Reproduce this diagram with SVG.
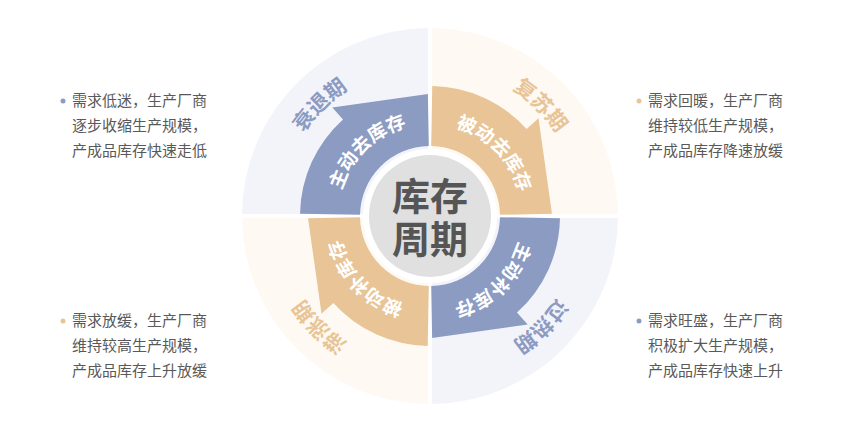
<svg xmlns="http://www.w3.org/2000/svg" width="865" height="438" viewBox="0 0 865 438">
<style>
.side{font-family:"Noto Sans CJK SC","Liberation Sans",sans-serif;font-size:15px;fill:#595959}
.arw{font-family:"Noto Sans CJK SC",sans-serif;font-size:19px;font-weight:bold;fill:#fff}
.lbl{font-family:"Noto Sans CJK SC",sans-serif;font-size:21px;font-weight:bold}
.ctr{font-family:"Noto Sans CJK SC",sans-serif;font-size:38px;font-weight:bold;fill:#555}
</style>
<defs>
<path id="q" d="M2,-2 L2,-188 A188 188 0 0 1 188,-2 Z"/>
<path id="a" d="M69.99,-1.22 A70 70 0 0 0 1.22,-69.99 L2.27,-129.98 A130 130 0 0 1 96.61,-86.99 L108.5,-97.69 L121.98,-2.13 Z"/>
<path id="c1" d="M-92,0 A92 92 0 1 1 92,0 A92 92 0 1 1 -92,0 A92 92 0 1 1 92,0 A92 92 0 1 1 -92,0"/>
<path id="c2" d="M-151,0 A151 151 0 1 1 151,0 A151 151 0 1 1 -151,0 A151 151 0 1 1 151,0 A151 151 0 1 1 -151,0"/>
</defs>
<rect width="865" height="438" fill="#fff"/>
<g transform="translate(430,216)">
<g id="quadrants">
<use href="#q" fill="#FEFAF3"/>
<use href="#q" fill="#F3F4FA" transform="rotate(90)"/>
<use href="#q" fill="#FEFAF3" transform="rotate(180)"/>
<use href="#q" fill="#F3F4FA" transform="rotate(270)"/>
</g>
<g id="connectors">
<use href="#a" fill="#E8C496"/>
<use href="#a" fill="#8C9BC2" transform="rotate(90)"/>
<use href="#a" fill="#E8C496" transform="rotate(180)"/>
<use href="#a" fill="#8C9BC2" transform="rotate(270)"/>
</g>
<g id="arrow-labels" class="arw">
<text text-anchor="start"><textPath href="#c1" startOffset="603">主动去库存</textPath></text>
<text text-anchor="start"><textPath href="#c1" startOffset="170">被动去库存</textPath></text>
<text text-anchor="start"><textPath href="#c1" startOffset="314">主动补库存</textPath></text>
<text text-anchor="start"><textPath href="#c1" startOffset="459">被动补库存</textPath></text>
</g>
<g id="phase-labels" class="lbl">
<text text-anchor="start" fill="#8C9BC2"><textPath href="#c2" startOffset="1036">衰退期</textPath></text>
<text text-anchor="start" fill="#E8C496"><textPath href="#c2" startOffset="324">复苏期</textPath></text>
<text text-anchor="start" fill="#8C9BC2"><textPath href="#c2" startOffset="561">过热期</textPath></text>
<text text-anchor="start" fill="#E8C496"><textPath href="#c2" startOffset="798">滞涨期</textPath></text>
</g>
<g id="center">
<circle r="67" fill="#fff"/>
<circle r="61" fill="#E0E0E0"/>
<text class="ctr" text-anchor="middle" y="-6">库存</text>
<text class="ctr" text-anchor="middle" y="37">周期</text>
</g>
</g>
<g id="note-tl" class="side">
<circle cx="63" cy="101" r="2.5" fill="#8C9BC2"/>
<text x="72" y="106">需求低迷，生产厂商</text>
<text x="72" y="131">逐步收缩生产规模，</text>
<text x="72" y="156">产成品库存快速走低</text>
</g>
<g id="note-tr" class="side">
<circle cx="639" cy="101" r="2.5" fill="#E8C496"/>
<text x="648" y="106">需求回暖，生产厂商</text>
<text x="648" y="131">维持较低生产规模，</text>
<text x="648" y="156">产成品库存降速放缓</text>
</g>
<g id="note-bl" class="side">
<circle cx="63" cy="321" r="2.5" fill="#E8C496"/>
<text x="72" y="326">需求放缓，生产厂商</text>
<text x="72" y="351">维持较高生产规模，</text>
<text x="72" y="376">产成品库存上升放缓</text>
</g>
<g id="note-br" class="side">
<circle cx="639" cy="321" r="2.5" fill="#8C9BC2"/>
<text x="648" y="326">需求旺盛，生产厂商</text>
<text x="648" y="351">积极扩大生产规模，</text>
<text x="648" y="376">产成品库存快速上升</text>
</g>
</svg>
